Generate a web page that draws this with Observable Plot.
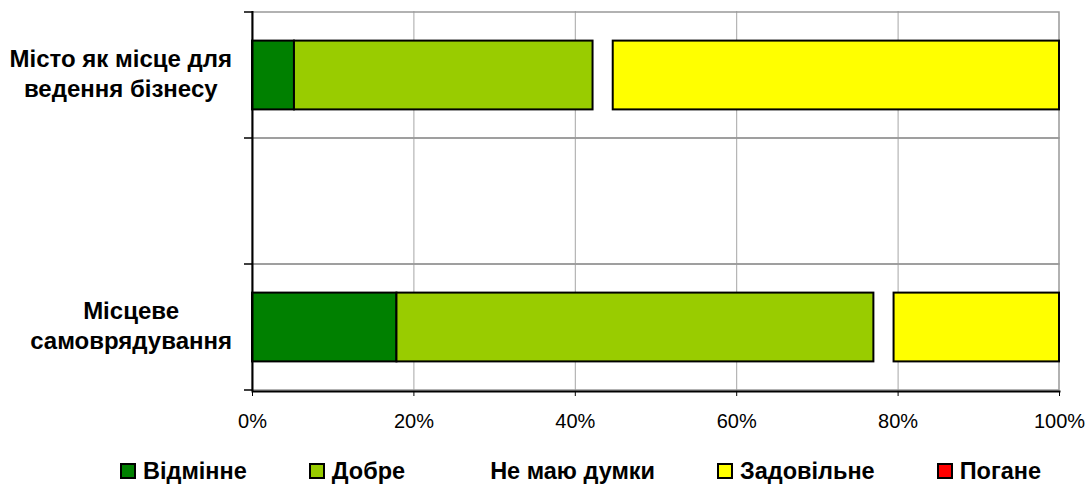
<!DOCTYPE html>
<html><head><meta charset="utf-8">
<script src="https://cdn.jsdelivr.net/npm/d3@7"></script>
<script src="https://cdn.jsdelivr.net/npm/@observablehq/plot@0.6"></script>
<style>
body{margin:0;background:#fff;font-family:"Liberation Sans",Arial,sans-serif;}
#legend{display:flex;align-items:center;height:34px;padding-top:14px;padding-left:120px;font-weight:bold;font-size:23.5px;color:#000;}
.item{display:flex;align-items:center;margin-right:62px;white-space:nowrap}
.sw{width:12px;height:12px;border:2px solid #000;margin-right:7px}
</style></head><body>
<div id="chart"></div><div id="legend"></div>
<script>
const categories = ["Місто як місце для\nведення бізнесу", "", "Місцеве\nсамоврядування"];
const ratings = ["Відмінне", "Добре", "Не маю думки", "Задовільне", "Погане"];
const ratingColors = ["#008000", "#99CC00", "#FFFFFF", "#FFFF00", "#FF0000"];
const cityValues = [5.2, 37.0, 2.5, 55.3, 0];
const governanceValues = [17.9, 59.1, 2.5, 20.5, 0];
const xTicks = [0, 20, 40, 60, 80, 100];
const blank = "Не маю думки";

const rows = [];
[[categories[0], cityValues], [categories[2], governanceValues]].forEach(([cat, vals]) => {
  const ends = d3.cumsum(vals);
  vals.forEach((v, i) => rows.push({category: cat, rating: ratings[i], value: v, x1: ends[i] - v, x2: ends[i]}));
});

const chart = Plot.plot({
  width: 1088, height: 440,
  marginLeft: 252, marginRight: 29, marginTop: 11, marginBottom: 49,
  style: {fontFamily: "Liberation Sans, Arial, sans-serif", fontSize: "20px", color: "#000", background: "#fff"},
  x: {domain: [xTicks[0], xTicks[xTicks.length - 1]]},
  y: {domain: categories, padding: 0, axis: null},
  color: {domain: ratings, range: ratingColors},
  marks: [
    Plot.gridX(xTicks.slice(1, -1), {stroke: "#a6a6a6", strokeOpacity: 1, strokeWidth: 1}),
    Plot.barX(categories, {y: d => d, x1: () => xTicks[0], x2: () => xTicks[xTicks.length - 1], fill: "none", stroke: "#999", strokeWidth: 1.5}),
    Plot.barX(rows.filter(d => d.rating !== blank && d.value > 0), {
      y: "category", x1: "x1", x2: "x2", fill: "rating",
      stroke: "black", strokeWidth: 2, insetTop: 28.6, insetBottom: 28.6
    }),
    Plot.ruleX([xTicks[0]], {stroke: "black", strokeWidth: 2}),
    Plot.frame({anchor: "bottom", stroke: "black", strokeWidth: 2}),
    Plot.axisX({ticks: xTicks, tickSize: 5, tickPadding: 17, tickFormat: d => d + "%", fontSize: 20, stroke: "black"}),
    Plot.text(categories, {
      y: d => d, text: d => d, frameAnchor: "left", textAnchor: "middle", lineAnchor: "middle",
      fontWeight: "bold", fontSize: 24, lineHeight: 1.27, dx: -122, dy: -3
    })
  ]
});
document.getElementById("chart").append(chart);

// right-align each wrapped label block (lines centred within the block)
const svgBox = chart.getBoundingClientRect();
const marginLeft = 252;
chart.querySelectorAll("g[aria-label='text'] text").forEach(t => {
  const r = t.getBoundingClientRect();
  if (!r.width) return;
  const shift = (marginLeft - 20) - (r.right - svgBox.left);
  t.setAttribute("transform", (t.getAttribute("transform") || "") + ` translate(${shift},0)`);
});

// outward ticks on the category axis at band boundaries
const ys = chart.scale("y");
const bounds = categories.map(c => ys.apply(c));
bounds.push(bounds[bounds.length - 1] + ys.bandwidth);
d3.select(chart).append("g").attr("aria-label", "y-ticks")
  .selectAll("line").data(bounds).join("line")
  .attr("x1", marginLeft - 8).attr("x2", marginLeft)
  .attr("y1", d => d).attr("y2", d => d)
  .attr("stroke", "black").attr("stroke-width", 1.5);

// legend
const legend = d3.select("#legend");
ratings.forEach((r, i) => {
  const item = legend.append("div").attr("class", "item");
  item.append("div").attr("class", "sw")
    .style("background", ratingColors[i])
    .style("border-color", r === blank ? "#fff" : "#000");
  item.append("span").text(r);
});
</script>
</body></html>
